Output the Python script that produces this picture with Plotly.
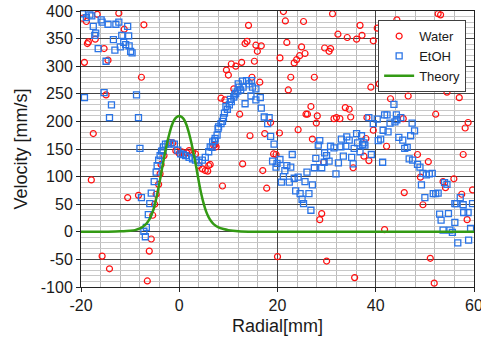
import plotly.graph_objects as go

# ---- Data ----
water_x = [-16.7, -12.3, -19.7, -18.9, -7.2, -11.2, -17.1, -18.5, -18.7, -15.3, -14.5, -19.3, -7.7, -14.9, -17.5,
           -17.9, -10.5, -8.3, -15.7, -14.2, -6.5, -6.1, -5.7, -5.4, -5.0, -4.7, -4.2, -3.9, -3.7, -3.1,
           -2.0, -1.3, -0.7, 0.0, 0.5, 1.0, 1.5, 2.0, 2.7, 3.3, 4.0, 4.7, 5.3, 5.8, 6.0, 6.3, 7.0, 7.3, 7.5,
           12.9, 8.8, 17.0, 17.8, 19.2, 19.7, 20.0,
           14.1, 13.4, 13.8, 15.6, 16.7, 15.9, 10.6, 11.5, 12.7, 15.3, 9.6, 10.0, 14.8, 16.4, 11.1, 8.5, 9.3,
           12.3, 14.4, 17.4, 18.6, 20.5,
           21.2, 21.6, 25.3, 31.2, 36.8, 32.3, 34.2, 36.1, 37.2, 39.5, 21.9, 24.9, 25.6, 24.5, 29.6, 30.5, 30.8,
           23.9, 23.4, 22.7, 27.5, 22.2, 39.0, 26.8, 26.1, 25.8, 28.1, 27.9, 33.8, 34.6, 34.9, 31.5, 32.0, 32.7,
           38.2, 24.2, 20.4, 27.1, 38.0, 29.4, 35.4, 37.6, 38.6, 29.0, 28.6, 30.0, 35.7,
           44.3, 52.7, 53.2, 40.3, 41.3, 40.7, 49.8, 54.5, 57.0, 43.0, 46.6, 52.2, 58.8, 58.2, 45.6, 39.5,
           42.2, 48.5, 50.7, 57.8, 49.1, 53.7, 54.2, 55.9, 45.8, 49.6, 57.5, 59.7, 58.6, 41.8, 51.1, 51.9]
water_y = [394, 396, 387, 381, 375, 367, 349, 344, 341, 332, 311, 307, 280, 248, 178,
           94, 62, 66, -44, -67, -89, -35, -13, 30, 50, 68, 86, 105, 122, 138,
           162, 161, 147, 142, 145, 140, 143, 147, 144, 141, 120, 114, 111, 110, 120, 122, 157, 158, 154,
           123, 83, 111, 79, 141, 140, -45,
           374, 341, 345, 338, 337, 327, 304, 300, 307, 309, 293, 284, 280, 271, 259, 242, 239,
           213, 174, 178, 198, 315,
           399, 382, 381, 395, 374, 358, 352, 349, 356, 346, 343, 335, 323, 319, 333, 327, 332,
           312, 306, 280, 280, 257, 262, 227, 213, 213, 210, 197, 225, 222, 208, 205, 207, 205,
           207, 185, 179, 168, 169, 126, 116, 137, 129, 33, 22, -53, -83,
           384, 395, 393, 369, 334, 268, 265, 253, 243, 241, 246, 213, 198, 188, 205, 184,
           155, 140, 127, 140, 99, 91, 80, 96, 71, 49, 68, 76, 22, 4, -48, -93]

etoh_x = [-19.7, -18.2, -17.8, -18.9, -15.7, -15.9, -14.5, -17.5, -12.9, -12.3, -10.5, -11.7, -10.3, -17.0, -17.2,
          -13.4, -11.3, -10.9, -12.0, -10.2, -16.5, -13.1, -9.9, -9.6, -14.9, -15.3, -19.3, -8.7, -13.8, -14.2,
          -8.3, -8.0,
          -7.7, -6.7, -7.2, -6.9, -6.3, -6.0, -5.7, -5.1, -4.7, -4.5, -4.2, -3.9, -3.6, -3.2, -2.8,
          -3.3, -2.3, -1.7, -1.0, -0.3, 0.3, 0.8, 1.3, 2.0, 2.7, 3.3, 4.0, 4.7, 5.3, 6.0, 6.7, 7.2, 7.7,
          6.3, 6.8, 7.3, 8.0, 7.9, 8.5, 8.8, 9.0, 9.2, 9.5, 9.8, 10.2, 10.4, 10.6, 11.1, 11.3, 11.5, 11.9, 12.0,
          12.2, 12.5, 12.9, 13.0, 13.7, 14.2, 14.7, 14.9, 15.6, 13.4, 14.6, 15.6, 16.5, 16.7, 17.3, 18.3, 18.0,
          18.6, 19.3, 19.0, 19.7,
          38.6, 39.5, 28.6, 28.3, 23.0, 20.5, 19.9, 21.9, 22.7, 21.5, 21.2, 20.8, 22.4, 23.4, 24.2, 26.0, 25.6,
          27.1, 23.7, 24.6, 25.0, 25.3, 26.8, 26.4, 27.8, 27.5, 29.0, 29.6, 30.0, 30.5, 29.5, 30.8, 31.5, 31.9,
          32.4, 33.4, 32.9, 33.9, 33.0, 34.1, 34.6, 35.1, 35.4, 35.6, 36.1, 37.1, 36.3, 37.3, 37.6, 37.8, 36.8,
          43.7, 41.8, 42.3, 44.2, 44.3, 45.1, 40.3, 42.9, 43.9, 47.4, 47.9, 41.5, 42.5, 40.5, 41.0,
          44.7, 45.5, 47.1, 39.1, 41.4, 45.9, 46.4, 46.8, 47.5, 48.5, 49.0, 49.6, 50.3, 50.9, 51.5, 49.3, 50.0,
          51.7, 52.2, 52.7, 54.0, 54.5, 53.0, 53.3, 54.8, 56.1, 56.4, 57.2, 57.8, 59.7, 57.9, 58.8, 56.1, 53.7,
          55.1, 55.6, 59.3, 56.7, 58.9]
etoh_y = [395, 393, 391, 388, 380, 384, 376, 372, 376, 380, 372, 356, 355, 360, 356,
          348, 343, 339, 335, 337, 332, 329, 327, 324, 309, 252, 243, 248, 230, 207,
          207, 151,
          62, 8, 1, -9, 31, 51, 70, 91, 108, 120, 130, 138, 146, 154, 159,
          147, 159, 161, 159, 148, 141, 140, 138, 135, 132, 130, 126, 130, 135, 145, 153, 165, 175,
          154, 163, 169, 190, 187, 196, 200, 207, 215, 227, 222, 230, 240, 236, 244, 248, 251, 255, 268,
          262, 257, 273, 262, 274, 268, 274, 262, 259, 232, 246, 239, 243, 224, 208, 207, 196,
          173, 159, 128, 117,
          207, 196, 165, 157, 140, 131, 124, 120, 117, 111, 100, 90, 90, 97, 99, 108, 91,
          85, 74, 69, 59, 51, 39, 69, 133, 116, 116, 143, 138, 128, 126, 155, 152, 105,
          125, 137, 154, 155, 168, 172, 166, 135, 123, 151, 178, 174, 161, 158, 161, 157, 145,
          231, 212, 212, 212, 203, 207, 204, 197, 199, 197, 183, 184, 181, 165, 168,
          171, 166, 174, 140, 126, 151, 153, 132, 130, 122, 117, 106, 103, 105, 106, 85, 62,
          69, 69, 70, 89, 86, 32, 21, 33, 51, 51, 62, 49, 51, 35, 35, 17, 3,
          3, -1, 6, -20, -15]

theory_x = [-20, -15, -12, -10, -9, -8, -7, -6.5, -6, -5.5, -5, -4.5, -4, -3.5, -3, -2.5, -2, -1.5, -1, -0.5, 0,
            0.5, 1, 1.5, 2, 2.5, 3, 3.5, 4, 4.5, 5, 5.5, 6, 6.5, 7, 8, 9, 10, 12, 15, 20, 40, 60]
theory_y = [0, 0, 1, 2, 3, 6, 12, 17, 24, 34, 48, 68, 90, 115, 138, 160, 178, 193, 203, 208, 210,
            208, 203, 193, 178, 160, 138, 115, 90, 68, 50, 36, 26, 19, 14, 8, 5, 3, 1, 0, 0, 0, 0]

x_ticks = [-20, 0, 20, 40, 60]
y_ticks = [-100, -50, 0, 50, 100, 150, 200, 250, 300, 350, 400]

FONT = "Liberation Sans, Arial, sans-serif"

fig = go.Figure()
fig.add_trace(go.Scatter(x=water_x, y=water_y, mode="markers", name="Water",
                         marker=dict(symbol="circle-open", size=6, color="#FF1010", line=dict(width=1.2))))
fig.add_trace(go.Scatter(x=etoh_x, y=etoh_y, mode="markers", name="EtOH",
                         marker=dict(symbol="square-open", size=6, color="#2A74E6", line=dict(width=1.3))))
fig.add_trace(go.Scatter(x=theory_x, y=theory_y, mode="lines", name="Theory",
                         line=dict(color="#339A14", width=2.5, shape="spline", smoothing=0.6)))

fig.update_layout(
    width=481, height=340,
    margin=dict(l=81, r=7, t=11, b=53, autoexpand=False),
    paper_bgcolor="white", plot_bgcolor="white",
    font=dict(family=FONT, size=16, color="#1a1a1a"),
    legend=dict(x=0.98, y=0.967, xanchor="right", yanchor="top",
                bgcolor="white", bordercolor="#404040", borderwidth=1,
                font=dict(size=13), tracegroupgap=0, itemwidth=30),
    showlegend=True,
)
fig.update_xaxes(range=[-20, 60], tickvals=x_ticks, ticktext=[str(v) for v in x_ticks],
                 showgrid=True, gridcolor="#444444", gridwidth=1,
                 minor=dict(dtick=4, showgrid=True, gridcolor="#BBBBBB", gridwidth=1),
                 showline=True, linecolor="#222222", linewidth=1, mirror=True,
                 ticks="outside", ticklen=4, tickcolor="#222222", automargin=False,
                 ticklabeloverflow="allow",
                 zeroline=False, tickfont=dict(size=16),
                 title=dict(text="Radial[mm]", font=dict(size=18), standoff=6))
fig.update_yaxes(range=[-100, 400], tickvals=y_ticks, ticktext=[str(v) for v in y_ticks],
                 showgrid=True, gridcolor="#444444", gridwidth=1,
                 minor=dict(dtick=10, showgrid=True, gridcolor="#C8C8C8", gridwidth=1),
                 showline=True, linecolor="#222222", linewidth=1, mirror=True,
                 ticks="outside", ticklen=4, tickcolor="#222222", automargin=False,
                 ticklabeloverflow="allow",
                 zeroline=False, tickfont=dict(size=16),
                 title=dict(text="Velocity [mm/s]", font=dict(size=18), standoff=8))

# remove the browser's default 8px body margin so the figure sits at the window origin
fig.write_html("out.html", config={"displayModeBar": False},
               post_script="document.body.style.margin='0px';")
